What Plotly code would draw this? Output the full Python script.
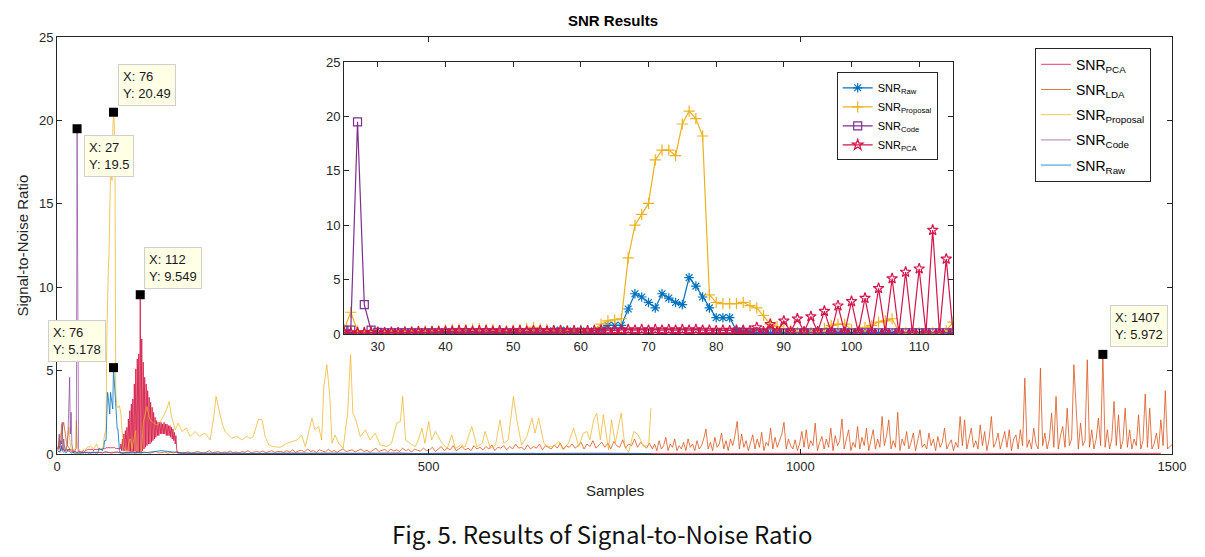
import numpy as np
import plotly.graph_objects as go

# ---------------- data ----------------
# per-sample values, samples 1..115
proposal_head = [0.3,0.6,1.0,0.5,0.9,1.8,0.7,0.4,0.3,0.5,0.3,0.2,0.4,0.8,1.2,1.6,0.9,0.5,0.3,0.2,0.3,0.2,0.2,0.3,
                 0.4,2.0,0.3,0.15,0.2,0.15,
                 0.15,0.1,0.15,0.2,0.2,0.25,0.3,0.25,0.3,0.35,
                 0.4,0.45,0.4,0.45,0.5,0.45,0.4,0.3,0.3,0.35,
                 0.4,0.5,0.6,0.45,0.4,0.3,0.35,0.3,0.3,0.35,0.3,0.4,
                 0.9,1.2,1.3,1.4,
                 7.0,10.0,11.0,12.0,16.0,16.9,16.9,16.4,19.3,20.49,19.8,18.2,
                 3.6,2.9,2.8,2.8,2.8,2.9,2.6,2.4,1.7,0.9,0.7,
                 0.4,0.3,0.15,0.15,0.1,0.2,0.5,0.8,0.9,0.9,
                 0.4,0.3,0.6,0.8,1.1,1.2,1.4,
                 0.2,0.1,0.1,0.1,0.1,0.1,0.1,0.3,1.1]
proposal_tail_samples = [116,121,125,130,134,138,143,148,151,154,159,163,168,174,179,186,192,199,206,211,214,217,
                         222,226,231,235,242,249,255,260,264,271,276,280,285,291,300,309,316,323,329,334,343,347,
                         352,356,359,363,367,370,374,379,385,391,395,398,402,408,415,421,428,435,444,450,457,462,
                         465,469,475,482,486,491,495,500,504,509,513,518,525,531,536,543,549,558,565,572,576,583,
                         590,596,601,607,614,619,625,632,639,643,648,655,661,668,675,681,688,695,702,708,713,717,
                         722,726,731,735,742,746,751,759,764,769,776,782,789,796,799]
proposal_tail_values = [1.85,2.85,2.05,1.85,1.75,1.85,2.25,2.75,3.15,2.25,1.45,1.85,1.35,1.55,1.05,1.35,1.05,1.25,0.85,2.25,3.45,2.85,
                        1.85,1.35,1.15,0.95,1.05,0.85,1.05,0.94,1.04,2.09,2.05,1.04,0.54,0.44,0.40,0.64,0.74,0.84,1.14,0.44,2.15,1.45,
                        1.65,0.84,4.06,5.36,3.45,0.64,1.14,0.64,0.34,2.45,5.96,2.45,2.05,1.04,1.45,0.84,1.25,0.54,0.44,0.64,1.85,1.95,
                        3.45,0.84,0.64,0.44,0.84,1.55,0.64,1.95,0.84,1.35,1.04,0.64,0.34,1.14,0.34,0.54,0.44,1.65,0.44,0.64,1.35,0.34,
                        0.54,2.05,0.64,0.84,3.45,1.95,0.54,1.04,2.15,1.25,2.15,0.64,0.44,0.44,0.75,0.24,0.65,1.55,0.44,1.25,1.35,0.85,
                        2.05,2.45,0.85,2.35,0.24,2.05,0.65,2.45,0.44,0.1,1.35,1.15,0.44,0.54,2.75]

raw_head = [0.1,0.15,0.2,0.1,0.3,0.5,0.2,0.1,0.1,0.15,0.1,0.05,0.1,0.2,0.3,0.2,0.1,0.1,0.05,0.05,0.1,0.05,0.05,0.05,
            0.05,0.05,0.05,0.05,0.05,0.05,0.05,0.05,0.1,0.05,0.05,0.05,0.1,0.05,0.05,0.1,0.1,0.05,0.1,0.1,0.05,0.05,
            0.1,0.05,0.05,0.1,0.05,0.05,0.1,0.05,0.05,
            0.3,0.35,0.3,0.25,0.3,0.2,0.3,
            0.4,0.8,0.8,0.8,
            2.3,3.7,3.4,2.9,2.4,3.7,3.3,2.9,2.7,5.178,4.4,3.4,2.4,1.5,1.5,1.5,
            0.3,0.2,0.1] + [0.05] * 30
raw_tail_samples = list(range(120, 801, 20))
raw_tail_values = [0.08,0.2,0.1,0.05,0.06,0.04,0.05,0.03,0.05,0.04,0.06,0.03,0.05,0.04,0.03,0.05,0.04,0.06,
                   0.03,0.05,0.04,0.03,0.05,0.04,0.03,0.05,0.04,0.03,0.04,0.05,0.03,0.04,0.03,0.04,0.03]

code_head = [0.3,0.5,1.2,0.4,0.8,0.6,1.9,0.3,0.9,0.4,0.2,0.3,0.6,0.6,1.5,2.6,4.6,1.2,2.5,0.6,0.2,0.1,0.1,0.2,
             0.35,0.35,19.5,2.7,0.35,0.15] + [0.1] * 85

pca_head = [0.2,0.3,0.5,0.3,0.2,0.4,0.3,0.2,0.3,0.2,0.15,0.2,0.3,0.2,0.15,0.2,0.3,0.2,0.15,0.1,0.15,0.1,0.1,0.15,
            0.15,0.1,0.1,0.1,0.15,0.15,0.1,0.15,0.1,0.15,0.15,0.2,0.15,0.2,0.2,0.25,
            0.25,0.3,0.3,0.25,0.3,0.3,0.25,0.3,0.2,0.25,0.3,0.25,0.3,0.3,0.25,0.3,0.3,0.25,0.3,0.25,0.3,0.3,
            0.35,0.3,0.35,0.35,0.4,0.35,0.4,0.35,0.4,0.35,0.4,0.35,0.4,0.35,0.4,0.35,0.35,0.3,0.35,0.3,0.35,0.35,0.3,
            0.6,0.2,0.9,0.2,1.2,0.2,1.4,0.2,1.6,0.2,2.1,0.15,2.6,0.15,3.0,0.15,3.3,0.15,4.2,0.15,5.1,0.1,5.7,0.1,
            6.0,0.1,9.549,0.1,6.9,0.2,
            5.5,0.3,4.6,0.4,4.2,0.5,3.8,0.6,3.4,0.6,3.1,0.7,2.8,0.8,2.5,0.9,2.2,1.0,2.0,1.1,
            1.9,1.1,1.9,1.2,1.9,1.2,1.8,1.2,1.9,1.2,1.8,1.1,1.8,1.1,1.7,1.1,1.7,1.0,1.6,0.9,
            1.5,0.8,1.3,0.6,1.1,0.3,0.05]
pca_tail_samples = list(range(165, 1500, 30))
pca_tail_values = [0.04,0.03,0.05,0.03,0.04,0.03,0.05,0.04,0.03,0.04,0.05,0.03,0.04,0.03,0.05,0.04,0.03,0.04,
                   0.05,0.03,0.04,0.03,0.05,0.04,0.03,0.04,0.05,0.03,0.04,0.03,0.05,0.04,0.03,0.04,0.05,0.03,
                   0.04,0.03,0.05,0.04,0.03,0.04,0.05,0.03,0.04]

# LDA: samples 1,5,...,797 then 801,804,...,1500
lda_a = [0.3,1.2,1.9,0.6,0.3,0.2,0.1,0.1,
         0.05,0.1,0.08,0.04,0.12,0.06,0.1,0.05,0.15,0.08,
         0.05,0.1,0.12,0.06,0.04,0.1,0.08,0.15,0.05,0.1,
         0.06,0.12,0.08,0.05,0.1,0.15,0.06,0.08,0.12,0.05,
         0.1,0.06,0.15,0.08,0.04,0.1,0.12,0.05,0.08,0.15,
         0.1,0.06,0.12,0.2,0.08,0.1,0.15,0.06,0.12,0.1,
         0.18,0.08,0.12,0.06,0.15,0.1,0.2,0.08,0.12,0.15,
         0.1,0.18,0.08,0.12,0.2,0.1,0.15,
         0.15,0.1,0.2,0.12,0.25,0.1,0.18,0.22,0.12,0.3,
         0.15,0.2,0.1,0.25,0.18,0.12,0.28,0.15,0.2,0.1,
         0.22,0.3,0.15,0.18,0.25,0.12,0.2,0.3,0.15,0.22,
         0.1,0.25,0.35,0.15,0.2,0.28,0.12,0.3,0.18,0.25,
         0.15,0.35,0.2,0.28,0.12,0.3,0.22,0.18,0.35,0.2,
         0.25,0.4,0.15,0.3,0.45,0.2,0.35,0.25,0.5,0.2,
         0.3,0.45,0.25,0.35,0.2,0.5,0.3,0.4,0.25,0.45,
         0.3,0.55,0.2,0.4,0.35,0.5,0.25,0.45,0.3,0.6,
         0.35,0.4,0.25,0.55,0.3,0.45,0.35,0.6,0.25,0.5,
         0.4,0.3,0.55,0.35,0.65,0.3,0.5,0.4,0.6,0.35,
         0.5,0.7,0.3,0.6,0.45,0.8,0.35,0.55,0.7,0.4,
         0.65,0.3,0.75,0.5,0.4,0.85,0.35,0.6,0.5,0.9,
         0.4,0.7,0.55,0.35,0.65]
lda_b = [0.3,0.6,0.2,0.8,0.3,0.5,1.0,0.2,0.6,0.4,0.9,0.2,0.5,0.3,0.7,0.2,0.9,0.4,0.6,0.2,
         0.8,0.3,0.5,0.9,1.5,0.3,0.7,0.2,1.0,0.4,0.6,1.25,0.3,0.8,0.2,0.9,0.5,1.1,1.95,0.3,
         1.2,0.4,0.8,0.2,0.7,1.15,0.3,0.9,0.4,1.3,0.2,0.7,0.5,1.55,0.3,1.0,0.4,0.8,1.2,1.9,
         0.3,0.9,0.5,0.3,0.85,0.2,0.6,1.35,0.4,1.45,0.3,0.8,0.5,1.85,0.2,0.7,1.05,0.3,0.9,0.4,
         1.55,0.2,1.1,0.5,0.8,2.1,0.3,0.9,1.45,0.2,0.7,0.4,1.65,0.3,1.0,0.5,1.55,0.2,0.8,1.45,
         0.3,0.9,0.4,2.25,0.5,1.1,2.05,0.3,0.8,0.4,2.5,0.2,0.9,0.5,1.35,0.3,0.7,1.25,0.2,0.8,
         1.45,0.4,0.6,0.3,1.25,0.5,0.9,0.2,1.05,0.4,0.7,1.55,0.3,0.6,0.85,0.2,0.7,0.4,2.25,0.5,
         2.05,0.3,0.9,1.55,0.4,0.8,0.3,1.75,0.5,1.35,0.2,0.9,2.25,0.4,0.7,1.25,0.3,0.8,1.35,0.4,
         1.45,0.2,0.9,1.15,0.3,1.45,0.5,4.55,0.4,0.85,0.3,1.55,0.6,0.3,5.15,0.5,1.25,0.3,0.9,2.45,
         0.4,3.45,0.3,1.1,1.65,0.4,2.75,0.5,0.9,5.35,2.65,0.3,1.85,0.5,0.8,5.65,0.4,1.45,0.3,0.9,
         2.15,0.5,5.972,0.4,1.45,0.3,0.9,3.15,0.5,2.35,0.3,0.8,2.75,0.4,1.45,0.3,0.9,0.5,2.35,0.3,
         0.8,3.6,0.4,2.75,0.3,0.6,1.25,0.3,2.05,0.5,3.8,0.3,0.45,0.55]

tips = [("proposal", 76), ("code", 27), ("pca", 112), ("raw", 76), ("lda", 1407)]

# ---------------- assemble series ----------------
def head_x(v):
    return list(range(1, len(v) + 1))

proposal_x = head_x(proposal_head) + proposal_tail_samples
proposal_y = proposal_head + proposal_tail_values
raw_x = head_x(raw_head) + raw_tail_samples
raw_y = raw_head + raw_tail_values
code_x = head_x(code_head)
code_y = code_head
pca_x = head_x(pca_head) + pca_tail_samples
pca_y = pca_head + pca_tail_values
lda_x = list(range(1, 1 + 4 * len(lda_a), 4)) + list(range(801, 801 + 3 * len(lda_b), 3))
lda_y = lda_a + lda_b

series = {
    "pca": (pca_x, pca_y),
    "lda": (lda_x, lda_y),
    "proposal": (proposal_x, proposal_y),
    "code": (code_x, code_y),
    "raw": (raw_x, raw_y),
}

colors = {"pca": "#D2154B", "lda": "#D95319", "proposal": "#EDB120", "code": "#7E2F8E", "raw": "#0072BD"}
main_colors = {"pca": "rgba(210,16,60,0.78)", "lda": "rgba(217,83,25,0.78)", "proposal": "rgba(237,177,32,0.72)",
               "code": "rgba(126,47,142,0.62)", "raw": "rgba(0,114,189,0.8)"}
names = {"pca": "SNR<sub>PCA</sub>", "lda": "SNR<sub>LDA</sub>", "proposal": "SNR<sub>Proposal</sub>",
         "code": "SNR<sub>Code</sub>", "raw": "SNR<sub>Raw</sub>"}

FONT = "Liberation Sans, Arial, sans-serif"
AX = "#262626"
W, H = 1205, 557
OFF = 8  # page margin of the browser


def fx(px):
    return (px - OFF) / W


def fy(py):
    return (H - (py - OFF)) / H


fig = go.Figure()

for key in ["pca", "lda", "proposal", "code", "raw"]:
    xs, ys = series[key]
    fig.add_trace(go.Scatter(x=xs, y=ys, mode="lines", name=names[key],
                             line=dict(color=main_colors[key], width=1),
                             legendgroup=key, legend="legend", xaxis="x", yaxis="y"))

# inset traces
symbols = {"raw": "asterisk-open", "proposal": "cross-thin-open", "code": "square-open", "pca": "star-open"}
for key in ["raw", "proposal", "code", "pca"]:
    xs, ys = series[key]
    pts = [(a, b) for a, b in zip(xs, ys) if 25 <= a <= 115]
    fig.add_trace(go.Scatter(x=[p[0] for p in pts], y=[p[1] for p in pts], mode="lines+markers",
                             name=names[key], line=dict(color=colors[key], width=1.2),
                             marker=dict(symbol=symbols[key], size=8, color=colors[key],
                                         line=dict(width=1.2, color=colors[key])),
                             legendgroup="i" + key, legend="legend2", xaxis="x2", yaxis="y2"))

# datatip markers
tx, ty = [], []
for key, s in tips:
    xs, ys = series[key]
    tx.append(s)
    ty.append(ys[xs.index(s)])
fig.add_trace(go.Scatter(x=tx, y=ty, mode="markers", showlegend=False,
                         marker=dict(symbol="square", size=9, color="black"), xaxis="x", yaxis="y"))

tip_pos = [("left", "bottom", 5, 6), ("left", "top", 7, -6), ("left", "bottom", 4, 6),
           ("right", "bottom", -7, 6), ("left", "bottom", 7, 7)]
ann = []
for (key, s), yv, (xa, ya, xs_, ys_) in zip(tips, ty, tip_pos):
    txt = f"X: {s}<br>Y: {yv:g}"
    ann.append(dict(x=s, y=yv, xref="x", yref="y", text=txt, showarrow=False, align="left",
                    xanchor=xa, yanchor=ya, xshift=xs_, yshift=ys_,
                    bgcolor="#FFFFE6", bordercolor="#CFCFCF", borderwidth=1, borderpad=4,
                    font=dict(family=FONT, size=13, color="#1a1a1a")))

ann += [
    dict(text="<b>SNR Results</b>", x=fx(613), y=fy(20), xref="paper", yref="paper",
         showarrow=False, font=dict(family=FONT, size=15, color="black"), xanchor="center", yanchor="middle"),
    dict(text="Samples", x=fx(615), y=fy(490), xref="paper", yref="paper",
         showarrow=False, font=dict(family=FONT, size=15, color=AX), xanchor="center", yanchor="middle"),
    dict(text="Signal-to-Noise Ratio", x=fx(22), y=fy(245.5), xref="paper", yref="paper",
         showarrow=False, textangle=-90, font=dict(family=FONT, size=15, color=AX),
         xanchor="center", yanchor="middle"),
    dict(text="Fig. 5. Results of Signal-to-Noise Ratio", x=fx(602), y=fy(533),
         xref="paper", yref="paper", showarrow=False,
         font=dict(family="Noto Sans CJK KR, Noto Sans, sans-serif", size=24, color="#111111"),
         xanchor="center", yanchor="middle"),
]

axis_style = dict(showline=True, linecolor=AX, linewidth=1, mirror="ticks", ticks="inside", ticklen=5,
                  tickcolor=AX, showgrid=False, zeroline=False,
                  tickfont=dict(family=FONT, size=13, color=AX), automargin=False)

fig.update_layout(
    width=W, height=H, margin=dict(l=0, r=0, t=0, b=0),
    paper_bgcolor="white", plot_bgcolor="white",
    xaxis=dict(domain=[fx(57), fx(1172)], range=[0, 1500], tickvals=[0, 500, 1000, 1500], **axis_style),
    yaxis=dict(domain=[fy(454), fy(37)], range=[0, 25], tickvals=[0, 5, 10, 15, 20, 25], **axis_style),
    xaxis2=dict(domain=[fx(344), fx(953)], range=[25, 115], tickvals=list(range(30, 111, 10)),
                anchor="y2", **axis_style),
    yaxis2=dict(domain=[fy(334), fy(62)], range=[0, 25], tickvals=[0, 5, 10, 15, 20, 25],
                anchor="x2", **axis_style),
    legend=dict(x=fx(1035), y=fy(47.7), xanchor="left", yanchor="top",
                bordercolor=AX, borderwidth=1, bgcolor="white", tracegroupgap=4,
                font=dict(family=FONT, size=14, color="black")),
    legend2=dict(x=fx(836.7), y=fy(72.3), xanchor="left", yanchor="top",
                 bordercolor=AX, borderwidth=1, bgcolor="white", tracegroupgap=0,
                 font=dict(family=FONT, size=11, color="black")),
    annotations=ann,
    showlegend=True,
)

fig.write_html("out.html")
